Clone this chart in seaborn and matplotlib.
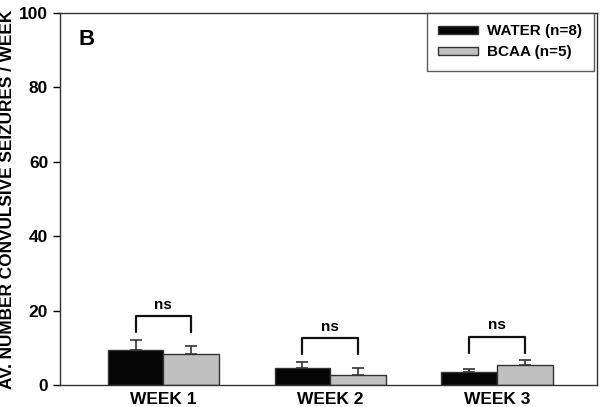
import numpy as np
import pandas as pd
import matplotlib
matplotlib.use("Agg")
import matplotlib.pyplot as plt
import seaborn as sns

weeks = ["WEEK 1", "WEEK 2", "WEEK 3"]
groups = ["WATER (n=8)", "BCAA (n=5)"]
water_mean = [9.3, 4.5, 3.5]
water_sem = [2.9, 1.8, 0.8]
bcaa_mean = [8.3, 2.8, 5.4]
bcaa_sem = [2.3, 1.9, 1.3]
sig_labels = ["ns", "ns", "ns"]

df = pd.DataFrame({
    "week": weeks * 2,
    "group": [groups[0]] * 3 + [groups[1]] * 3,
    "value": water_mean + bcaa_mean,
})

sns.set_style("white")
plt.rcParams["font.family"] = ["Liberation Sans", "DejaVu Sans"]
plt.rcParams["font.weight"] = "bold"
plt.rcParams["text.color"] = "black"
plt.rcParams["axes.labelcolor"] = "black"
plt.rcParams["xtick.color"] = "black"
plt.rcParams["ytick.color"] = "black"

fig = plt.figure(figsize=(6, 4.07), dpi=100)
ax = fig.add_axes([0.1, 0.054, 0.895, 0.914])

sns.barplot(data=df, x="week", y="value", hue="group", order=weeks,
            hue_order=groups, palette=["#050505", "#c0c0c0"], width=0.667,
            edgecolor="#333333", linewidth=1.0, errorbar=None, ax=ax)

# error bars (upper only)
xs_w = [p.get_x() + p.get_width() / 2 for p in ax.patches[:3]]
xs_b = [p.get_x() + p.get_width() / 2 for p in ax.patches[3:6]]
for xs, m, e in [(xs_w, water_mean, water_sem), (xs_b, bcaa_mean, bcaa_sem)]:
    ax.errorbar(xs, m, yerr=[np.zeros(3), e], fmt="none", ecolor="#333333",
                elinewidth=1.2, capsize=4.5, capthick=1.2)

# significance brackets
for i in range(3):
    top_w = water_mean[i] + water_sem[i]
    top_b = bcaa_mean[i] + bcaa_sem[i]
    low = max(top_w, top_b) + 2.0
    high = low + 4.3
    ax.plot([xs_w[i], xs_w[i], xs_b[i], xs_b[i]], [low, high, high, low],
            color="#111111", lw=1.6)
    ax.text((xs_w[i] + xs_b[i]) / 2, high + 1.2, sig_labels[i], ha="center",
            va="bottom", fontsize=11, fontweight="bold")

ax.set_ylim(0, 100)
ax.set_xlim(-0.62, 2.6)
ax.set_yticks([0, 20, 40, 60, 80, 100])
ax.tick_params(axis="y", direction="out", length=5, width=1, labelsize=12.5, left=True)
ax.tick_params(axis="x", length=0, labelsize=12.5, pad=5)
for lab in ax.get_xticklabels() + ax.get_yticklabels():
    lab.set_fontweight("bold")
ax.set_xlabel("")
ax.set_ylabel("AV. NUMBER CONVULSIVE SEIZURES / WEEK", fontsize=12.4,
              fontweight="bold", labelpad=3)
for s in ax.spines.values():
    s.set_color("#333333")
    s.set_linewidth(1.0)

ax.text(0.034, 0.929, "B", transform=ax.transAxes, fontsize=16,
        fontweight="bold", va="center")

leg = ax.legend(loc="upper right", bbox_to_anchor=(0.994, 1.0), frameon=True,
                fancybox=False, edgecolor="#333333",
                prop={"weight": "bold", "size": 11}, handlelength=2.6,
                handleheight=0.5, borderpad=0.75, labelspacing=0.45,
                borderaxespad=0, handletextpad=0.6)
leg.get_frame().set_linewidth(1.0)

fig.savefig("out.png", dpi=100)
